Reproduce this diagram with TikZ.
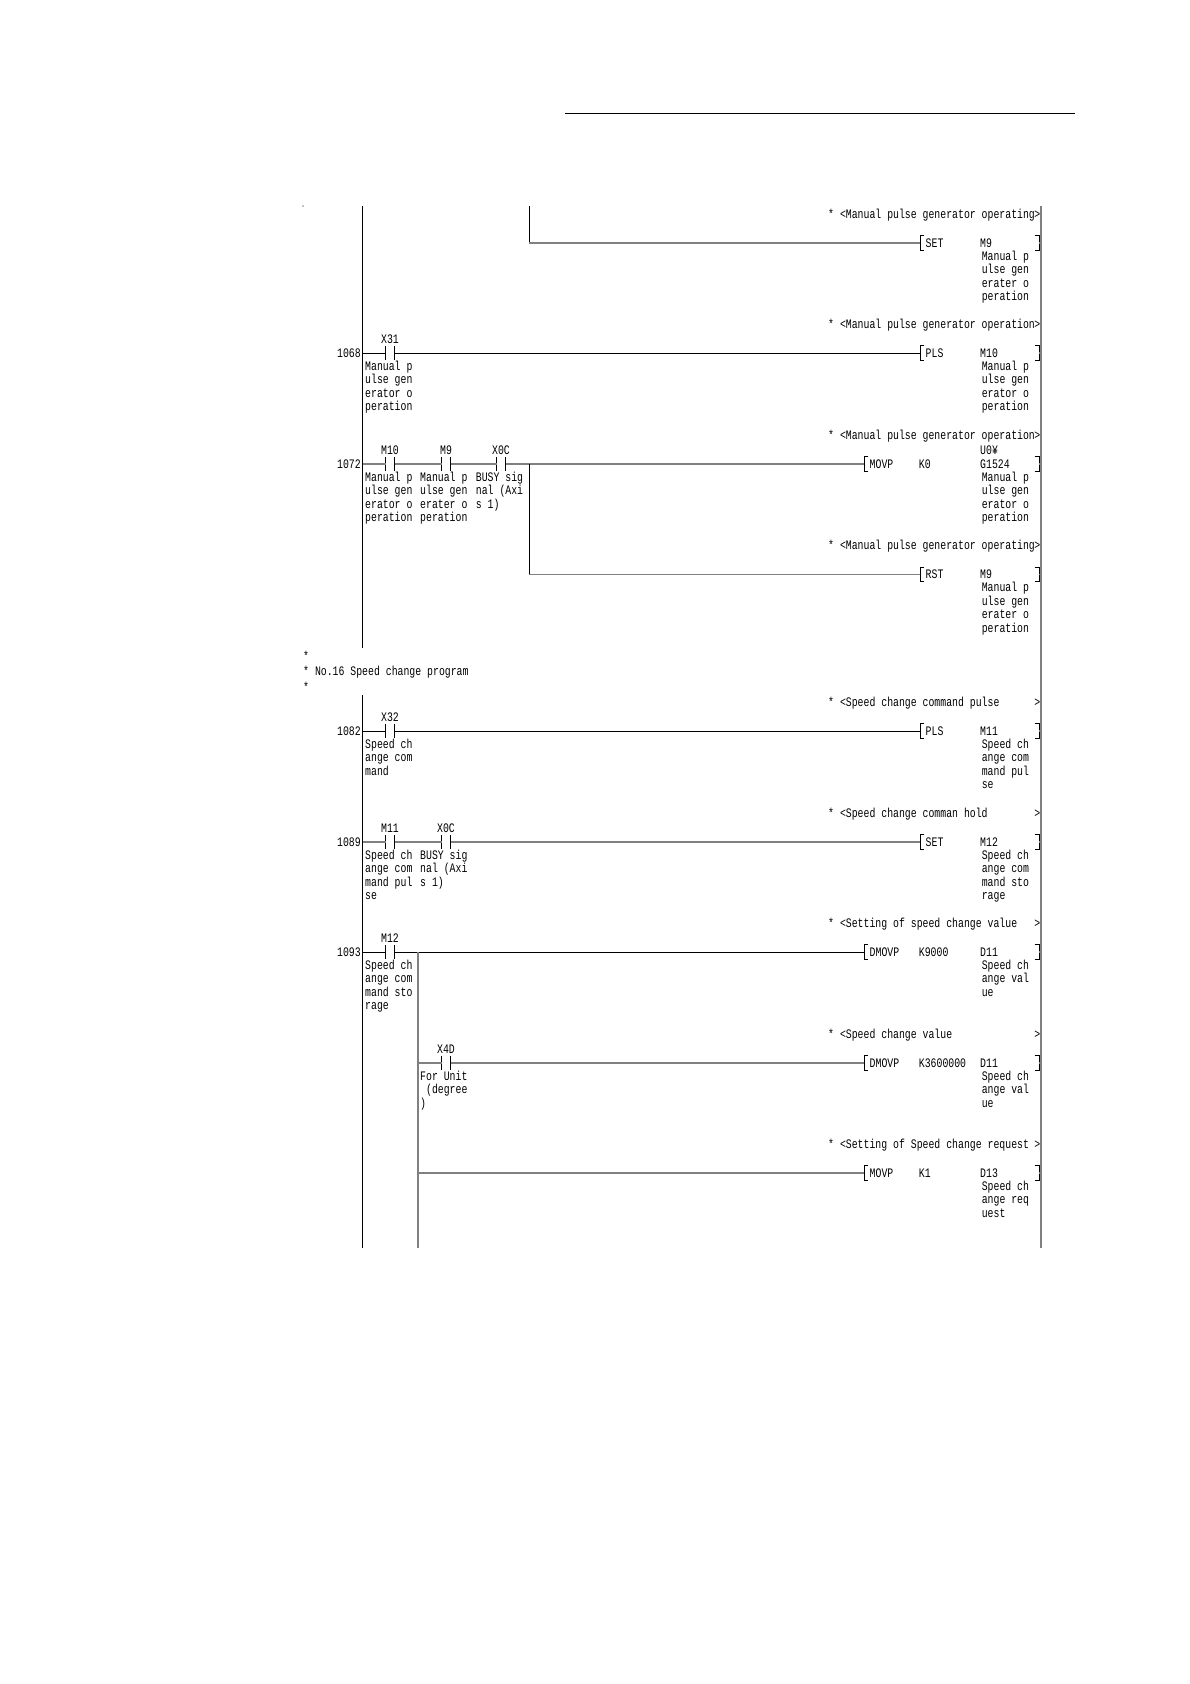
\documentclass[tikz,border=0pt]{standalone}
\usepackage{fontspec}
\newfontfamily\ladfont[FakeStretch=0.757]{Liberation Mono}
\tikzset{
  txt/.style={font=\ladfont\fontsize{13}{13.4}\selectfont, inner sep=0pt, anchor=base west, yshift=-4pt},
  txtr/.style={txt, anchor=base east},
  devnote/.style={font=\ladfont\fontsize{13}{13.4}\selectfont, inner sep=0pt, anchor=north west, align=left, yshift=0.7pt,
    execute at begin node={\rule{0pt}{9.5pt}}},
  contact/.style={minimum width=8.6pt, minimum height=13.5pt, inner sep=0pt},
  coilend/.style={minimum width=4pt, minimum height=14pt, inner sep=0pt},
  dark/.style={black, line width=1pt},
  soft/.style={black!50, line width=1.7pt},
}
\begin{document}
\begin{tikzpicture}[x=1pt, y=-1pt]
\useasboundingbox (0,0) rectangle (1190,1684);
% rule at the page head and the stray dot
\coordinate (headL) at (565,113.5);
\coordinate (headR) at (1075,113.5);
\draw[dark] (headL) -- (headR);
\node[circle, fill=black, inner sep=0pt, minimum size=1.2pt] (speck) at (303,206) {};
% power rails
\coordinate (railAtop) at (362.5,206);
\coordinate (railAbot) at (362.5,648);
\coordinate (railBtop) at (362.5,695);
\coordinate (railBbot) at (362.5,1248);
\coordinate (railRtop) at (1041,206);
\coordinate (railRbot) at (1041,1248);
\draw[dark] (railAtop) -- (railAbot);
\draw[dark] (railBtop) -- (railBbot);
\draw[soft] (railRtop) -- (railRbot);
% step numbers
\foreach \n/\y in {1068/353,1072/464,1082/731,1089/842,1093/952} {
  \coordinate (r\n) at (362.5,\y);
  \node[txtr] (n\n) at (361,\y) {\n};
}
% heading
\node[txt] (headA) at (303,656) {*};
\node[txt] (headB) at (303,671) {* No.16 Speed change program};
\node[txt] (headC) at (303,687) {*};
% contacts
\foreach \nm/\x/\y/\lab in {x31/390/353/X31, m10/390/464/M10, m9a/446/464/M9, x0ca/501/464/X0C,
    x32/390/731/X32, m11/390/842/M11, x0cb/446/842/X0C, m12/390/952/M12, x4d/446/1063/X4D} {
  \node[contact] (\nm) at (\x,\y) {};
  \node[txt, anchor=base] (\nm t) at (\x,\y-13.5) {\lab};
  \draw[dark] (\nm.north west) -- (\nm.south west);
  \draw[dark] (\nm.north east) -- (\nm.south east);
}
% notes under contacts
\foreach \nm/\x/\y/\body in {
    d1/365/361.5/{Manual p\\ulse gen\\erator o\\peration},
    d2/365/472.5/{Manual p\\ulse gen\\erator o\\peration},
    d3/420/472.5/{Manual p\\ulse gen\\erater o\\peration},
    d4/475.7/472.5/{BUSY sig\\nal (Axi\\s 1)},
    d5/365/739.5/{Speed ch\\ange com\\mand},
    d6/365/850.5/{Speed ch\\ange com\\mand pul\\se},
    d7/420/850.5/{BUSY sig\\nal (Axi\\s 1)},
    d8/365/960.5/{Speed ch\\ange com\\mand sto\\rage},
    d9/420/1071.5/{For Unit\\\ (degree\\)}} {
  \node[devnote] (\nm) at (\x,\y) {\body};
}
% rung comments
\foreach \nm/\y/\body in {
    c1/214/Manual pulse generator operating,
    c2/324/Manual pulse generator operation,
    c3/435/Manual pulse generator operation,
    c4/545/Manual pulse generator operating,
    c5/702/Speed change command pulse,
    c6/813/Speed change comman hold,
    c7/923/Setting of speed change value,
    c8/1034/Speed change value,
    c9/1144/Setting of Speed change request} {
  \node[txt] (\nm) at (828,\y) {* <\body};
  \node[txtr] (\nm e) at (1040.5,\y) {>};
}
% output instructions
\foreach \nm/\x/\y/\op/\arg/\dst in {
    oa/920/243/SET//M9, ob/920/353/PLS//M10, oc/864/464/MOVP/K0/G1524, od/920/574.5/RST//M9,
    oe/920/731/PLS//M11, of/920/842/SET//M12, og/864/952/DMOVP/K9000/D11,
    oh/864/1063/DMOVP/K3600000/D11, oi/864/1173/MOVP/K1/D13} {
  \node[coilend, anchor=west] (\nm) at (\x,\y) {};
  \node[coilend, anchor=east] (\nm r) at (1039,\y) {};
  \coordinate (\nm s) at (1041,\y);
  \draw[dark] (\nm.north east) -- (\nm.north west) -- (\nm.south west) -- (\nm.south east);
  \draw[dark] (\nm r.north west) -- (\nm r.north east) -- (\nm r.south east) -- (\nm r.south west);
  \draw[soft] (\nm r.east) -- (\nm s);
  \node[txt] (\nm a) at (\x+5.5,\y) {\op};
  \node[txt] (\nm b) at (918.7,\y) {\arg};
  \node[txt] (\nm c) at (980,\y) {\dst};
}
\node[txt] (ocd) at (980,450.5) {U0¥};
% notes under destinations
\foreach \nm/\y/\body in {
    e1/251.5/{Manual p\\ulse gen\\erater o\\peration},
    e2/361.5/{Manual p\\ulse gen\\erator o\\peration},
    e3/472.5/{Manual p\\ulse gen\\erator o\\peration},
    e4/583/{Manual p\\ulse gen\\erater o\\peration},
    e5/739.5/{Speed ch\\ange com\\mand pul\\se},
    e6/850.5/{Speed ch\\ange com\\mand sto\\rage},
    e7/960.5/{Speed ch\\ange val\\ue},
    e8/1071.5/{Speed ch\\ange val\\ue},
    e9/1181.5/{Speed ch\\ange req\\uest}} {
  \node[devnote] (\nm) at (981.6,\y) {\body};
}
% rungs
\coordinate (topA) at (529,206);
\coordinate (joinA) at (529,243);
\coordinate (joinB) at (529,464);
\coordinate (joinC) at (529,574.5);
\coordinate (joinD) at (418,952);
\coordinate (joinE) at (418,1063);
\coordinate (joinF) at (418,1173);
\coordinate (endD) at (418,1248);
\draw[dark] (topA) -- (joinA);
\draw[soft] (joinA) -- (oa.west);
\draw[dark] (r1068) -- (x31.west);
\draw[dark] (x31.east) -- (ob.west);
\draw[soft] (r1072) -- (m10.west);
\draw[soft] (m10.east) -- (m9a.west);
\draw[soft] (m9a.east) -- (x0ca.west);
\draw[soft] (x0ca.east) -- (oc.west);
\draw[dark] (joinB) -- (joinC);
\draw[soft] (joinC) -- (od.west);
\draw[dark] (r1082) -- (x32.west);
\draw[dark] (x32.east) -- (oe.west);
\draw[soft] (r1089) -- (m11.west);
\draw[soft] (m11.east) -- (x0cb.west);
\draw[soft] (x0cb.east) -- (of.west);
\draw[dark] (r1093) -- (m12.west);
\draw[dark] (m12.east) -- (og.west);
\draw[soft] (joinD) -- (endD);
\draw[soft] (joinE) -- (x4d.west);
\draw[soft] (x4d.east) -- (oh.west);
\draw[soft] (joinF) -- (oi.west);
\end{tikzpicture}
\end{document}
